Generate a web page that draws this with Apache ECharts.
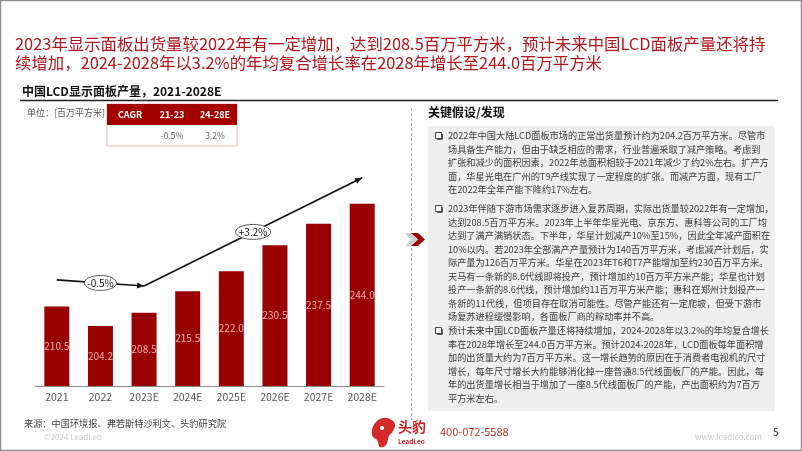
<!DOCTYPE html>
<html><head><meta charset="utf-8">
<script src="https://cdn.jsdelivr.net/npm/echarts/dist/echarts.min.js"></script>
<style>html,body{margin:0;padding:0;background:#fff}#c{width:802px;height:451px}</style>
</head><body><div id="c"></div>
<script>
// ---- data ----
const categories = ['2021','2022','2023E','2024E','2025E','2026E','2027E','2028E'];
const production = [210.5, 204.2, 208.5, 215.5, 222.0, 230.5, 237.5, 244.0];
const cagrHeaders = ['CAGR', '21-23', '24-28E'];
const cagrValues = ['', '-0.5%', '3.2%'];
const trendLabels = ['-0.5%', '+3.2%'];

const titleLines = [
  '2023年显示面板出货量较2022年有一定增加，达到208.5百万平方米，预计未来中国LCD面板产量还将持',
  '续增加，2024-2028年以3.2%的年均复合增长率在2028年增长至244.0百万平方米'
];
const para1 = [
  '2022年中国大陆LCD面板市场的正常出货量预计约为204.2百万平方米。尽管市',
  '场具备生产能力，但由于缺乏相应的需求，行业普遍采取了减产策略。考虑到',
  '扩张和减少的面积因素，2022年总面积相较于2021年减少了约2%左右。扩产方',
  '面，华星光电在广州的T9产线实现了一定程度的扩张。而减产方面，现有工厂',
  '在2022年全年产能下降约17%左右。'
];
const para2 = [
  '2023年伴随下游市场需求逐步进入复苏周期，实际出货量较2022年有一定增加，',
  '达到208.5百万平方米。2023年上半年华星光电、京东方、惠科等公司的工厂均',
  '达到了满产满销状态。下半年，华星计划减产10%至15%，因此全年减产面积在',
  '10%以内。若2023年全部满产产量预计为140百万平方米，考虑减产计划后，实',
  '际产量为126百万平方米。华星在2023年T6和T7产能增加至约230百万平方米。',
  '天马有一条新的8.6代线即将投产，预计增加约10百万平方米产能；华星也计划',
  '投产一条新的8.6代线，预计增加约11百万平方米产能；惠科在郑州计划投产一',
  '条新的11代线，但项目存在取消可能性。尽管产能还有一定爬坡，但受下游市',
  '场复苏进程缓慢影响，各面板厂商的稼动率并不高。'
];
const para3 = [
  '预计未来中国LCD面板产量还将持续增加，2024-2028年以3.2%的年均复合增长',
  '率在2028年增长至244.0百万平方米。预计2024-2028年，LCD面板每年面积增',
  '加的出货量大约为7百万平方米。这一增长趋势的原因在于消费者电视机的尺寸',
  '增长，每年尺寸增长大约能够消化掉一座普通8.5代线面板厂的产能。因此，每',
  '年的出货量增长相当于增加了一座8.5代线面板厂的产能，产出面积约为7百万',
  '平方米左右。'
];

const FONT = '"Noto Sans CJK SC", "Noto Sans", sans-serif';
const chart = echarts.init(document.getElementById('c'), null, {renderer: 'canvas'});

const baseOption = {
  animation: false,
  backgroundColor: '#ffffff',
  textStyle: {fontFamily: FONT},
  grid: {left: 35, right: 418, top: 141, bottom: 65},
  xAxis: {
    type: 'category', data: categories,
    axisLine: {lineStyle: {color: '#8c8c8c', width: 1}},
    axisTick: {show: false},
    axisLabel: {color: '#595959', fontSize: 10.5, margin: 6, fontFamily: FONT}
  },
  yAxis: {type: 'value', min: 184.6, max: 264.5, show: false, splitLine: {show: false}},
  series: [{
    type: 'bar', data: production, barWidth: 25,
    itemStyle: {color: '#990000'},
    label: {show: true, position: 'inside', color: '#f5aaaa', fontSize: 10, fontFamily: FONT,
      formatter: p => p.value.toFixed(1)}
  }]
};
chart.setOption(baseOption);

function txt(x, y, text, opts) {
  return {type: 'text', silent: true, style: Object.assign({
    x: x, y: y, text: text, fill: '#333', font: '10px ' + FONT,
    textAlign: 'left', textVerticalAlign: 'middle'}, opts || {})};
}

const g = [];
// outer frame
g.push({type: 'rect', shape: {x: 0.5, y: 0.5, width: 801, height: 450},
  style: {fill: 'none', stroke: '#8f8f8f', lineWidth: 1.5}, silent: true});
// title
titleLines.forEach((t, i) => g.push(txt(15, 44 + i * 19, t, {fill: '#b0161e', font: '16.4px ' + FONT})));
// subtitle
g.push(txt(22, 91, '中国LCD显示面板产量，2021-2028E', {fill: '#111', font: 'bold 12px ' + FONT}));
g.push({type: 'line', shape: {x1: 20, y1: 100.5, x2: 778, y2: 100.5}, style: {stroke: '#222', lineWidth: 1.5}, silent: true});
// unit
g.push(txt(27, 113, '单位：[百万平方米]', {fill: '#555', font: '9px ' + FONT}));
// CAGR table
g.push({type: 'rect', shape: {x: 107, y: 104, width: 130, height: 42}, style: {fill: '#fff', stroke: '#e6bcbc', lineWidth: 1}, silent: true});
g.push({type: 'rect', shape: {x: 107, y: 104, width: 130, height: 21}, style: {fill: '#a50000'}, silent: true});
const colX = [130, 172, 215];
cagrHeaders.forEach((h, i) => g.push(txt(colX[i], 115, h, {fill: '#fff', font: 'bold 9px ' + FONT, textAlign: 'center'})));
cagrValues.forEach((v, i) => g.push(txt(colX[i], 135.5, v, {fill: '#666', font: '8.5px ' + FONT, textAlign: 'center'})));

// right panel
g.push({type: 'line', shape: {x1: 411.5, y1: 108, x2: 411.5, y2: 420}, style: {stroke: '#aaa', lineWidth: 1, lineDash: [3, 2]}, silent: true});
g.push(txt(428, 112, '关键假设/发现', {fill: '#111', font: 'bold 12px ' + FONT}));
g.push({type: 'rect', shape: {x: 428, y: 126, width: 347, height: 285}, style: {fill: '#efefef'}, silent: true});
// chevron
g.push({type: 'polygon', shape: {points: [[405,233],[411,233],[417,239.5],[411,246],[405,246],[411,239.5]]}, style: {fill: '#cfcfcf'}, silent: true});
g.push({type: 'polygon', shape: {points: [[411,233],[418,233],[425,239.5],[418,246],[411,246],[418,239.5]]}, style: {fill: '#a00000'}, silent: true});

function paragraph(lines, y0) {
  const step = 13.45;
  g.push({type: 'rect', shape: {x: 435.5, y: y0 - 3.5, width: 6, height: 6}, style: {fill: '#fff', stroke: '#333', lineWidth: 0.9}, silent: true});
  g.push({type: 'polyline', shape: {points: [[437, y0 + 3.3], [442.3, y0 + 3.3], [442.3, y0 - 2]]}, style: {stroke: '#333', lineWidth: 1, fill: 'none'}, silent: true});
  lines.forEach((l, i) => g.push(txt(448, y0 + i * step, l, {fill: '#3a3a3a', font: '9.2px ' + FONT})));
}
paragraph(para1, 136);
paragraph(para2, 209);
paragraph(para3, 331);

// footer
g.push(txt(24, 424, '来源：中国环境报、弗若斯特沙利文、头豹研究院', {fill: '#444', font: '9.2px ' + FONT}));
g.push(txt(44, 437, '©2024 LeadLeo', {fill: '#c8c8c8', font: '8px ' + FONT}));
g.push(txt(695, 437, 'www.leadleo.com', {fill: '#c8c8c8', font: '8px ' + FONT}));
g.push(txt(773, 432, '5', {fill: '#333', font: '10px ' + FONT}));
// logo
g.push({type: 'polygon', shape: {points: [[372,430],[376,422],[383,418],[390,419],[395,424],[393,431],[389,436],[386,445],[380,447],[377,440],[373,437]], smooth: 0.4}, style: {fill: '#d42a2a'}, silent: true});
g.push({type: 'circle', shape: {cx: 382, cy: 428, r: 2}, style: {fill: '#fff'}, silent: true});
g.push(txt(398, 427, '头豹', {fill: '#cf1f1f', font: 'bold 14px ' + FONT}));
g.push(txt(398, 442, 'LeadLeo', {fill: '#cf1f1f', font: 'bold 6.5px ' + FONT}));
g.push(txt(440, 432, '400-072-5588', {fill: '#c0392b', font: '11px ' + FONT}));

// trend arrows (anchored to the chart's scales)
const px = (i, v) => chart.convertToPixel({xAxisIndex: 0, yAxisIndex: 0}, [i, v]);
const pStart = px(0, 219.2), pMid = px(2, 217.2), pEnd = px(7, 252.5);
function arrow(a, b) {
  g.push({type: 'line', shape: {x1: a[0], y1: a[1], x2: b[0], y2: b[1]}, style: {stroke: '#111', lineWidth: 1.6}, silent: true});
  const ang = Math.atan2(b[1] - a[1], b[0] - a[0]);
  const L = 7, W = 3;
  const bx = b[0] - L * Math.cos(ang), by = b[1] - L * Math.sin(ang);
  g.push({type: 'polygon', shape: {points: [[b[0], b[1]], [bx + W * Math.sin(ang), by - W * Math.cos(ang)], [bx - W * Math.sin(ang), by + W * Math.cos(ang)]]}, style: {fill: '#111'}, silent: true});
}
arrow(pStart, pMid);
arrow(pMid, pEnd);
function bubble(a, b, label, rx) {
  const cx = (a[0] + b[0]) / 2, cy = (a[1] + b[1]) / 2;
  g.push({type: 'ellipse', shape: {cx: cx, cy: cy, rx: rx, ry: 7.5}, style: {fill: '#fff', stroke: '#333', lineWidth: 0.8}, silent: true});
  g.push(txt(cx, cy, label, {fill: '#111', font: '10px ' + FONT, textAlign: 'center'}));
}
bubble(pStart, pMid, trendLabels[0], 16);
bubble(pMid, pEnd, trendLabels[1], 17.5);

chart.setOption({graphic: g});
</script></body></html>
